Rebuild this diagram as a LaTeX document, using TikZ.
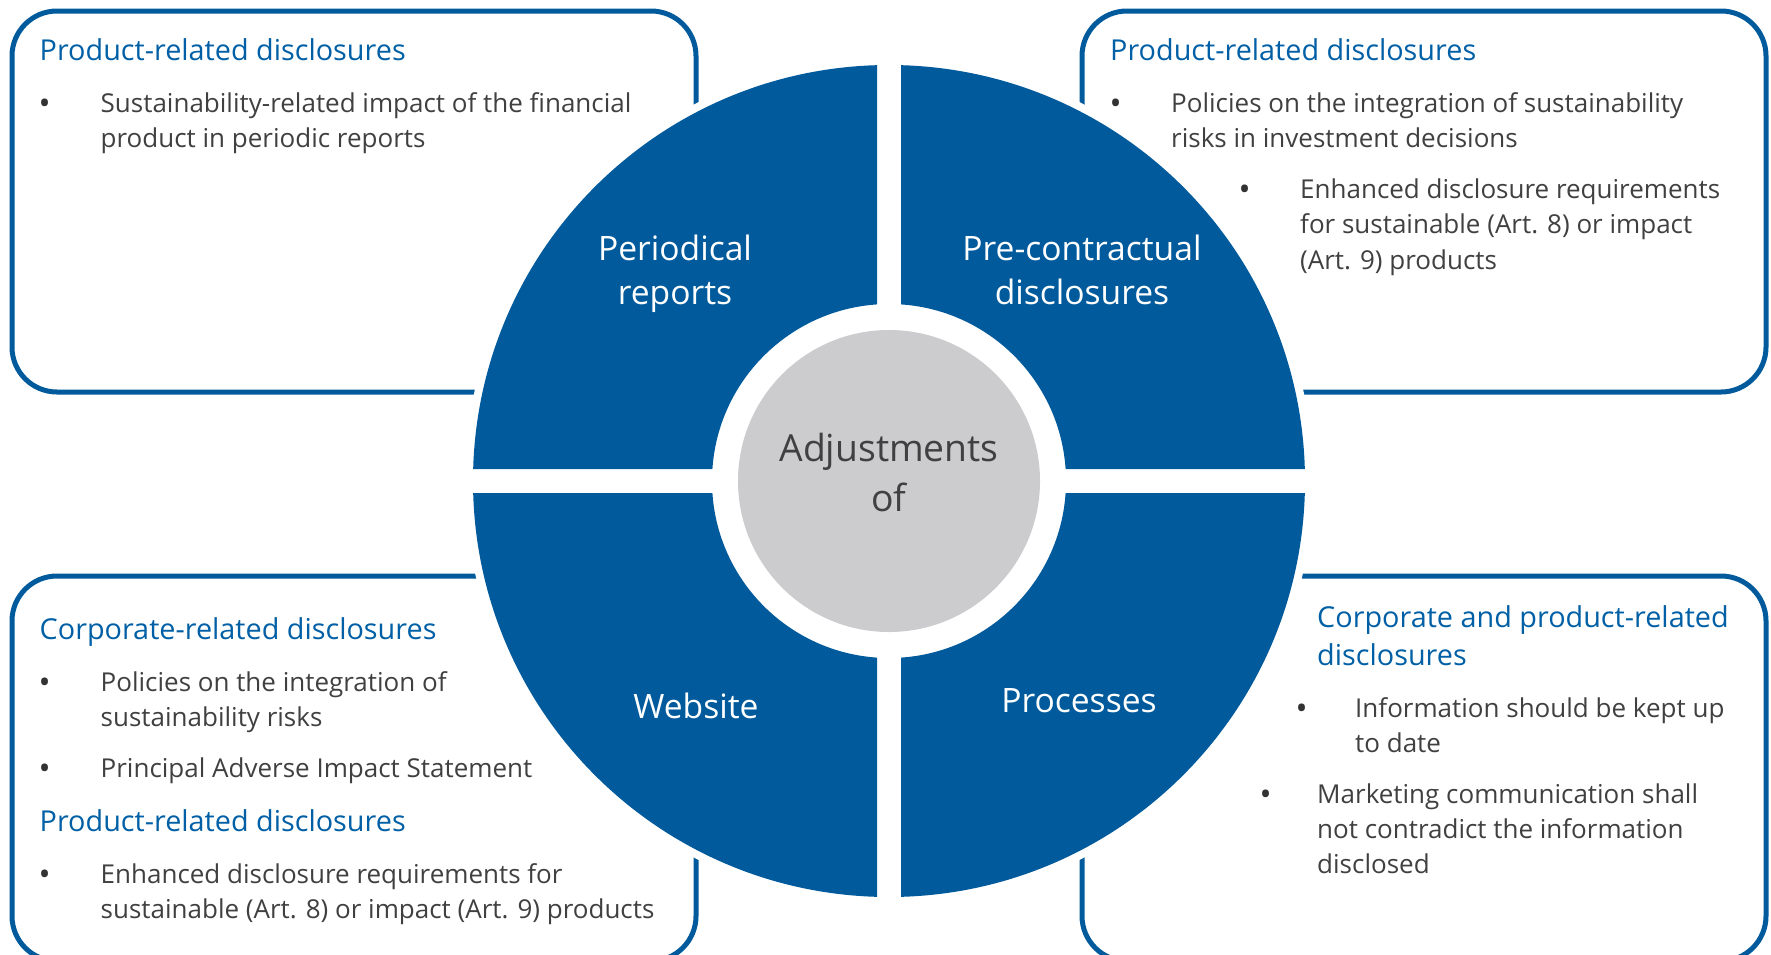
\documentclass[tikz,border=0pt]{standalone}
\usepackage{fontspec}
\setmainfont{Open Sans}
\definecolor{qblue}{RGB}{0,90,156}
\definecolor{hblue}{RGB}{0,95,165}
\definecolor{txtgray}{RGB}{64,64,64}
\definecolor{cgray}{RGB}{204,203,205}
\begin{document}
\begin{tikzpicture}[x=1pt,y=-1pt,
  box/.style={draw=qblue, line width=5pt, rounded corners=45pt},
  body/.style={anchor=base west, inner sep=0pt, text=txtgray, font=\fontsize{26}{31}\selectfont},
  bul/.style={anchor=base west, inner sep=0pt, text=black!80, yshift=-2pt, xshift=-1.5pt, font=\fontsize{32}{31}\selectfont},
  head/.style={anchor=base west, inner sep=0pt, text=hblue, font=\fontsize{28.8}{34}\selectfont},
  qlab/.style={anchor=base, inner sep=0pt, text=white, font=\fontsize{33.6}{40}\selectfont},
  clab/.style={anchor=base, inner sep=0pt, text=txtgray, font=\fontsize{37.3}{44}\selectfont}]
\useasboundingbox (0,0) rectangle (1771,954);
\clip (0,0) rectangle (1771,954);
% boxes
\draw[box] (12,11) rectangle (696,392);
\draw[box] (1082,11) rectangle (1766,392);
\draw[box] (12,576) rectangle (696,961);
\draw[box] (1082,576) rectangle (1766,961);
% white halo
\fill[white] (889,481) circle[radius=424];
% quadrants
\begin{scope}
\clip (450,40) rectangle (877,469) (901,40) rectangle (1330,469)
      (450,493) rectangle (877,920) (901,493) rectangle (1330,920);
\fill[qblue, even odd rule] (889,481) circle[radius=416] (889,481) circle[radius=177];
\end{scope}
\node[circle, fill=cgray, minimum size=302pt, inner sep=0pt] (hub) at (889,481) {};
\node[clab] (hub1) at (889,461) {Adjustments};
\node[clab] (hub2) at (889,511) {of};
% quadrant labels
\node[qlab] (q1a) at (675,260) {Periodical};
\node[qlab] (q1b) at (675,304) {reports};
\node[qlab] (q2a) at (1082,260) {Pre-contractual};
\node[qlab] (q2b) at (1082,304) {disclosures};
\node[qlab] (q3) at (696,718) {Website};
\node[qlab] (q4) at (1079,712) {Processes};
% top-left text
\node[head] (tlh) at (39.5,60) {Product-related disclosures};
\node[bul] (tlb1) at (40,112) {•};
\node[body] (tl1) at (100.5,112) {Sustainability-related impact of the financial};
\node[body] (tl2) at (100.5,147) {product in periodic reports};
% top-right text
\node[head] (trh) at (1110,60) {Product-related disclosures};
\node[bul] (trb1) at (1111,112) {•};
\node[body] (tr1) at (1171,112) {Policies on the integration of sustainability};
\node[body] (tr2) at (1171,147) {risks in investment decisions};
\node[bul] (trb2) at (1240,198) {•};
\node[body] (tr3) at (1300,198) {Enhanced disclosure requirements};
\node[body] (tr4) at (1300,233.5) {for sustainable (Art. 8) or impact};
\node[body] (tr5) at (1300,269) {(Art. 9) products};
% bottom-left text
\node[head] (blh1) at (39.5,639) {Corporate-related disclosures};
\node[bul] (blb1) at (40,691) {•};
\node[body] (bl1) at (100.5,691) {Policies on the integration of};
\node[body] (bl2) at (100.5,726) {sustainability risks};
\node[bul] (blb2) at (40,777) {•};
\node[body] (bl3) at (100.5,777) {Principal Adverse Impact Statement};
\node[head] (blh2) at (39.5,831) {Product-related disclosures};
\node[bul] (blb3) at (40,883) {•};
\node[body] (bl4) at (100.5,883) {Enhanced disclosure requirements for};
\node[body] (bl5) at (100.5,918) {sustainable (Art. 8) or impact (Art. 9) products};
% bottom-right text
\node[head] (brh1) at (1317,627) {Corporate and product-related};
\node[head] (brh2) at (1317,665) {disclosures};
\node[bul] (brb1) at (1297,717) {•};
\node[body] (br1) at (1355,717) {Information should be kept up};
\node[body] (br2) at (1355,752) {to date};
\node[bul] (brb2) at (1261,803) {•};
\node[body] (br3) at (1317,803) {Marketing communication shall};
\node[body] (br4) at (1317,838) {not contradict the information};
\node[body] (br5) at (1317,873) {disclosed};
\end{tikzpicture}
\end{document}
